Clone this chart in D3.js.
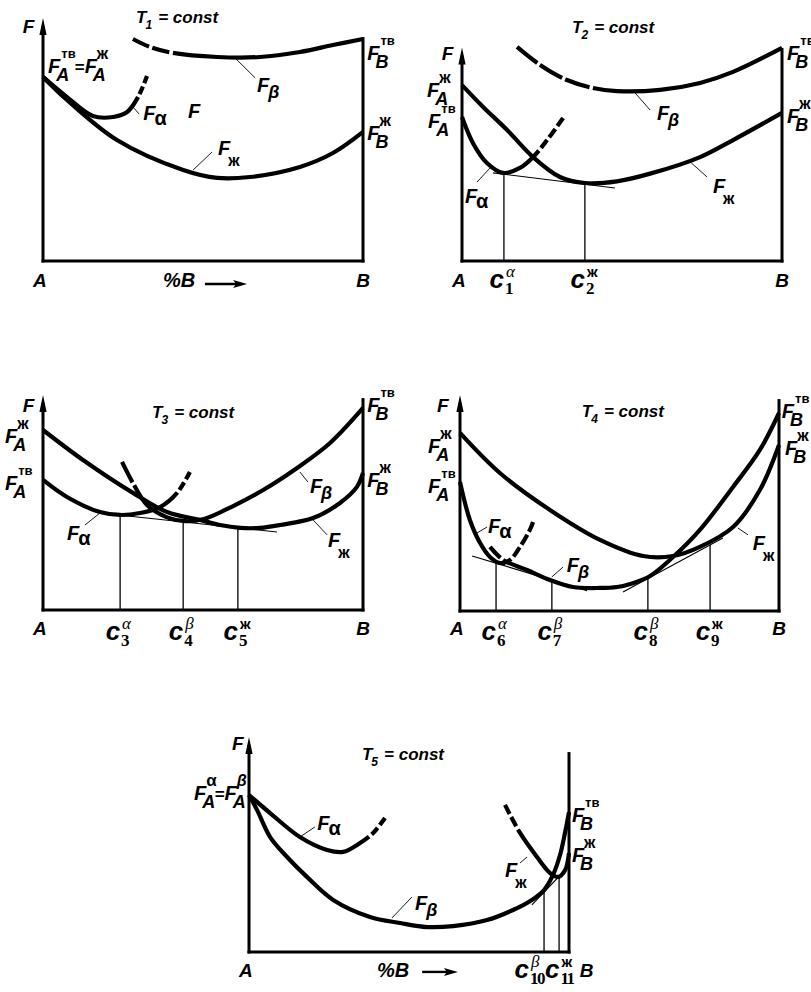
<!DOCTYPE html>
<html>
<head>
<meta charset="utf-8">
<script src="https://cdn.jsdelivr.net/npm/d3@7"></script>
<style>
  html, body { margin: 0; background: #fff; }
  svg { display: block; }
</style>
</head>
<body>
<svg id="fig" width="811" height="992"></svg>
<script>
// Free-energy / composition curves of an A–B system at five temperatures.
// x = %B (0 = pure A, 100 = pure B), y = free energy F (arbitrary units).

// ---- T1 ----
const t1Liquid = [[0,76.7],[7.5,67.1],[23.1,50.4],[43.8,37.9],[54.4,34.6],[64.7,35],[80.3,39.2],[90.6,45],[100,53.8]];
const t1Alpha  = [[0,76.7],[7.5,68.3],[15.6,60.4],[21.9,60],[26.3,62.1],[29.7,68.3],[32.5,77.1]];
const t1Beta   = [[28.1,92.5],[33.4,89.2],[40.6,86.7],[54.4,85],[67.8,85],[80.3,87.1],[90.6,90],[100,92.5]];
const t1AlphaDashFrom = 29.7;
const t1BetaDashTo = 40.6;

// ---- T2 ----
const t2Liquid = [[0,73.3],[6.6,64.2],[14.1,54.6],[22.2,43.3],[30.6,35],[38.4,32.5],[48.4,33.2],[58.8,36.4],[74.4,43.3],[84.7,50.4],[100,61.7]];
const t2Alpha  = [[0,60],[3.4,49.2],[7.8,40.8],[12.8,36.7],[18.1,38.8],[22.2,43.3],[26.6,50.4],[31.6,59.6]];
const t2Beta   = [[17.2,89.2],[24.4,81.7],[32.8,75.4],[40.9,72.1],[48.4,70.8],[61.9,71.3],[74.4,74.2],[84.7,78.8],[100,88.8]];
const t2AlphaDashFrom = 24;
const t2BetaDashTo = 40.9;
const t2Tangent = [[9.7,36.7],[47.8,30.4]];
const t2Comps = [[13.1,36.2],[38.4,32.0]];
const t2CompNames = [["1","α"],["2","ж"]];

// ---- T3 ----
const t3Liquid = [[0,75],[12.5,62.5],[28.1,48.8],[38.8,40.8],[49.1,37.5],[55.3,35.4],[61.6,34.2],[67.8,34.2],[74.1,35.4],[84.4,38.3],[92.8,44.6],[98.1,51.3],[100,57.1]];
const t3Alpha  = [[0,54.2],[7.5,47.1],[17.8,40.8],[24.1,39.6],[30.3,40.4],[36.6,42.9],[41.9,48.8],[45.9,57.5]];
const t3Beta   = [[24.7,61.7],[28.1,52.9],[32.5,43.8],[38.8,38.6],[44.5,37],[50.3,37.9],[58.8,42.9],[68.8,50],[79.4,59.2],[89.7,69.6],[100,84.2]];
const t3AlphaDashFrom = 42;
const t3BetaDashTo = 28.5;
const t3Tangent = [[17.8,40.4],[73.1,32.5]];
const t3Comps = [[24.1,39.5],[43.8,36.7],[60.9,34.3]];
const t3CompNames = [["3","α"],["4","β"],["5","ж"]];

// ---- T4 ----
const t4Liquid = [[0,74.2],[12.5,57.5],[28.2,42.1],[43.9,29.6],[57.4,22.9],[66.8,22.9],[75.2,26.7],[85.6,35],[94,50.4],[100,69.2]];
const t4Alpha  = [[0,53.8],[3.1,37.9],[6.3,28.3],[9.4,22.5],[12.5,20],[15.7,21.3],[18.8,26.7],[21.9,33.8],[22.9,37.1]];
const t4Beta   = [[9.4,26.7],[13.5,21.3],[21,17.1],[28.2,12.9],[35.4,10],[43.9,9.6],[49.2,10],[54.2,11.6],[59.6,14.6],[66.8,22.5],[75.2,33.8],[85.6,51.7],[94,67.1],[100,82.5]];
const t4AlphaDashFrom = 16;
const t4BetaDashTo = 13.5;
const t4TangentLow  = [[3.8,22.9],[39.8,8.5]];
const t4TangentHigh = [[51.1,7.9],[82.4,30.4]];
const t4Comps = [[11.3,19.9],[28.8,12.9],[58.9,13.5],[78.4,27.5]];
const t4CompNames = [["6","α"],["7","β"],["8","β"],["9","ж"]];

// ---- T5 ----
const t5Beta   = [[0,65.4],[2.5,59.2],[6.6,47.9],[11.9,39.6],[18.1,31.3],[26.3,21.7],[37.8,14.6],[47.2,12.1],[55.6,10.4],[63.8,10.8],[74.4,13.3],[82.5,17.5],[88.4,21.7],[92.2,25.8],[95,32.1],[97.2,40.4],[98.8,50],[100,58.3]];
const t5Alpha  = [[0,65.4],[6.6,57.9],[15.9,47.9],[24.4,42.5],[29.4,41.7],[34.7,45.4],[38.8,49.6],[42.5,55.8]];
const t5Liquid = [[80,61.3],[84.7,49.6],[90,39.6],[94.1,32.9],[96.6,31.3],[98.8,34.2],[100,41.3]];
const t5AlphaDashFrom = 37.5;
const t5LiquidDashTo = 84;
const t5Tangent = [[88.4,19.6],[99.4,35]];
const t5Comps = [[92.2,24.9],[96.9,31.5]];
const t5CompNames = [["10","β"],["11","ж"]];
const t5CompLabelX = [87.5, 97.0];

// ---------------------------------------------------------------------------
const SANS = "'Liberation Sans', Arial, Helvetica, sans-serif";
const SERIF = "'Liberation Serif', 'Times New Roman', serif";

const STY = {
  F:        {size:20, family:SANS, weight:700, style:'italic'},
  axisF:    {size:19, family:SANS, weight:700, style:'italic'},
  corner:   {size:19, family:SANS, weight:700, style:'italic'},
  pct:      {size:20, family:SANS, weight:700, style:'italic'},
  title:    {size:17, family:SANS, weight:700, style:'italic'},
  titleSub: {size:12, family:SANS, weight:700, style:'italic', dx:-1, dy:6},
  eq:       {size:17, family:SANS, weight:700, style:'normal'},
  subLat:   {size:18, family:SANS, weight:700, style:'italic', dx:-4, dy:8},
  subAlpha: {size:20, family:SANS, weight:700, style:'normal', dx:-1, dy:5},
  subBeta:  {size:18, family:SANS, weight:700, style:'italic', dx:-1, dy:6},
  subZh:    {size:16, family:SANS, weight:700, style:'normal', dx:-2, dy:11},
  supTv:    {size:13, family:SANS, weight:700, style:'normal', dx:1, dy:-15},
  supZh:    {size:16, family:SANS, weight:700, style:'normal', dx:0, dy:-14},
  supAlpha: {size:17, family:SANS, weight:700, style:'normal', dx:0, dy:-14},
  supBeta:  {size:16, family:SANS, weight:700, style:'italic', dx:0, dy:-14},
  c:        {size:26, family:SANS, weight:700, style:'italic'},
  cSub:     {size:17, family:SERIF, weight:700, style:'normal', dx:1, dy:6, spacing:-1.5},
  cSupGr:   {size:17, family:SERIF, weight:400, style:'italic', dx:2, dy:-11},
  cSupZh:   {size:15, family:SANS, weight:700, style:'normal', dx:2, dy:-11}
};

const subStyle = s => s === 'α' ? 'subAlpha' : s === 'β' ? 'subBeta' : s === 'ж' ? 'subZh' : 'subLat';
const supStyle = s => s === 'тв' ? 'supTv' : s === 'ж' ? 'supZh' : s === 'α' ? 'supAlpha' : 'supBeta';
const F = (sub, sup) => ({t:'F', st:'F', sub, sup});
const title = n => [{t:'T', st:'title', sub:n, subSt:'titleSub'}, {t:'= const', st:'title', gapBefore:6}];

const panels = [
  { frame:{left:43, bottom:261, width:320}, axisTop:101.3, rightTop:93.3,
    curves:[{data:t1Liquid}, {data:t1Alpha, dashFrom:t1AlphaDashFrom, dash:8}, {data:t1Beta, dashTo:t1BetaDashTo}],
    tangents:[], comps:[], names:[], nameY:-11.3,
    leaders:[[[28.1,64.2],[30,61.3]],[[60,84.6],[66.3,76.3]],[[46.9,37.9],[52.8,45.4]]],
    labels:[
      {x:29.1, y:99.2, segs:title('1')},
      {x:-6.3, y:95, segs:[{t:'F', st:'axisF'}]},
      {x:1.6, y:78.3, segs:[F('A','тв'), {t:'=', st:'eq', gapBefore:-1}, F('A','ж')]},
      {x:31.3, y:58.8, segs:[F('α')]},
      {x:45.3, y:59.6, segs:[{t:'F', st:'F'}]},
      {x:66.9, y:70.4, segs:[F('β')]},
      {x:54.7, y:44.2, segs:[F('ж')]},
      {x:101.3, y:83.8, segs:[F('B','тв')]},
      {x:101.3, y:50.4, segs:[F('B','ж')]}
    ],
    corners:{y:-10.8, bx:100}, pctB:{x:37.5, y:-10.8, a0:50.6, a1:63.8, ay:-9.6} },

  { frame:{left:462, bottom:261, width:320}, axisTop:89, rightTop:88.8,
    curves:[{data:t2Liquid}, {data:t2Alpha, dashFrom:t2AlphaDashFrom, dash:12}, {data:t2Beta, dashTo:t2BetaDashTo, dash:22}],
    tangents:[t2Tangent], comps:t2Comps, names:t2CompNames, nameY:-11.3,
    leaders:[[[54.1,70],[58.8,62.9]],[[71.3,41.3],[76.6,35]],[[8.8,38.8],[4.7,32.9]]],
    labels:[
      {x:34.4, y:95, segs:title('2')},
      {x:-6.3, y:83.8, segs:[{t:'F', st:'axisF'}]},
      {x:-10.9, y:68.5, segs:[F('A','ж')]},
      {x:-10.6, y:55.4, segs:[F('A','тв')]},
      {x:0.9, y:24.2, segs:[F('α')]},
      {x:60.9, y:58.8, segs:[F('β')]},
      {x:78.4, y:28.3, segs:[F('ж')]},
      {x:101.6, y:83.8, segs:[F('B','тв')]},
      {x:101.6, y:57.5, segs:[F('B','ж')]}
    ],
    corners:{y:-10.8, bx:100} },

  { frame:{left:43, bottom:610, width:320}, axisTop:89.6, rightTop:88.3,
    curves:[{data:t3Liquid}, {data:t3Alpha, dashFrom:t3AlphaDashFrom, dash:12}, {data:t3Beta, dashTo:t3BetaDashTo, dash:16}],
    tangents:[t3Tangent], comps:t3Comps, names:t3CompNames, nameY:-12.5,
    leaders:[[[17.8,40.4],[13.1,35.4]],[[80.3,57.5],[82.8,53.3]],[[84.4,37.5],[88.8,31.3]]],
    labels:[
      {x:34.1, y:80, segs:title('3')},
      {x:-6.3, y:82.5, segs:[{t:'F', st:'axisF'}]},
      {x:-11.9, y:69.6, segs:[F('A','ж')]},
      {x:-11.9, y:50, segs:[F('A','тв')]},
      {x:7.5, y:29.2, segs:[F('α')]},
      {x:83.4, y:48.8, segs:[F('β')]},
      {x:89.1, y:26.3, segs:[F('ж')]},
      {x:101.3, y:82.5, segs:[F('B','тв')]},
      {x:101.3, y:51.3, segs:[F('B','ж')]}
    ],
    corners:{y:-10.4, bx:100} },

  { frame:{left:460, bottom:611, width:319}, axisTop:90, rightTop:88.3,
    curves:[{data:t4Liquid}, {data:t4Alpha, dashFrom:t4AlphaDashFrom, dash:10}, {data:t4Beta, dashTo:t4BetaDashTo, dash:10}],
    tangents:[t4TangentLow, t4TangentHigh], comps:t4Comps, names:t4CompNames, nameY:-12.1,
    leaders:[[[5.3,32.5],[8.5,35]],[[28.8,14.2],[32.3,18.3]],[[87.1,34.6],[90.3,31.7]]],
    labels:[
      {x:38.2, y:80.8, segs:title('4')},
      {x:-7.2, y:82.9, segs:[{t:'F', st:'axisF'}]},
      {x:-10, y:65.8, segs:[F('A','ж')]},
      {x:-10, y:49.2, segs:[F('A','тв')]},
      {x:8.8, y:32.5, segs:[F('α')]},
      {x:33.5, y:16.3, segs:[F('β')]},
      {x:91.8, y:25.4, segs:[F('ж')]},
      {x:100.9, y:80.4, segs:[F('B','тв')]},
      {x:101.9, y:65, segs:[F('B','ж')]}
    ],
    corners:{y:-10, bx:100} },

  { frame:{left:249, bottom:952, width:320}, axisTop:89.6, rightTop:83.3,
    curves:[{data:t5Beta}, {data:t5Alpha, dashFrom:t5AlphaDashFrom, dash:12}, {data:t5Liquid, dashTo:t5LiquidDashTo, dash:14}],
    tangents:[t5Tangent], comps:t5Comps, names:t5CompNames, nameY:-10.8, nameX:t5CompLabelX,
    leaders:[[[15.9,47.9],[20.6,52.1]],[[44.7,14.2],[50.9,22.9]],[[84.7,37.1],[86.9,39.6]]],
    labels:[
      {x:35.3, y:80, segs:title('5')},
      {x:-5.3, y:84.2, segs:[{t:'F', st:'axisF'}]},
      {x:-17.2, y:63.3, segs:[F('A','α'), {t:'=', st:'eq', gapBefore:-2}, F('A','β')]},
      {x:21.3, y:50.8, segs:[F('α')]},
      {x:51.9, y:17.5, segs:[F('β')]},
      {x:80, y:31.3, segs:[F('ж')]},
      {x:100.9, y:54.2, segs:[F('B','тв')]},
      {x:100.9, y:37.5, segs:[F('B','ж')]}
    ],
    corners:{y:-10.4, bx:105.5}, pctB:{x:40, y:-10.4, a0:54.1, a1:65.3, ay:-8.3} }
];

const svg = d3.select('#fig');

function addText(g, x, y, str, s) {
  const t = g.append('text')
    .attr('x', x).attr('y', y)
    .attr('font-family', s.family).attr('font-size', s.size)
    .attr('font-weight', s.weight).attr('font-style', s.style)
    .attr('fill', '#000')
    .text(str);
  if (s.spacing) t.attr('letter-spacing', s.spacing);
  return t;
}

function rich(g, x, y, segs) {
  let cx = x;
  segs.forEach(s => {
    cx += s.gapBefore || 0;
    const b = addText(g, cx, y, s.t, STY[s.st || 'F']);
    const w = b.node().getComputedTextLength();
    let end = cx + w;
    if (s.sup) {
      const ss = STY[s.supSt || supStyle(s.sup)];
      const t = addText(g, cx + w + ss.dx, y + ss.dy, s.sup, ss);
      end = Math.max(end, cx + w + ss.dx + t.node().getComputedTextLength());
    }
    if (s.sub) {
      const ss = STY[s.subSt || subStyle(s.sub)];
      const t = addText(g, cx + w + ss.dx, y + ss.dy, s.sub, ss);
      end = Math.max(end, cx + w + ss.dx + t.node().getComputedTextLength());
    }
    cx = end;
  });
}

function lengthAtX(node, px) {
  let lo = 0, hi = node.getTotalLength();
  for (let i = 0; i < 40; i++) {
    const m = (lo + hi) / 2;
    if (node.getPointAtLength(m).x < px) lo = m; else hi = m;
  }
  return (lo + hi) / 2;
}

// solid curve with a dashed run at its start or its end
function dashPattern(node, px, part, dash, gap) {
  const L = node.getTotalLength();
  const Lb = lengthAtX(node, px);
  const seg = part === 'start' ? Lb : L - Lb;
  const n = Math.max(1, Math.round(seg / (dash + gap)));
  const d = seg / n - gap;
  const arr = [];
  if (part === 'start') {
    for (let i = 0; i < n; i++) arr.push(d, gap);
    arr.push(L + 10, 0);
  } else {
    arr.push(Lb, gap);
    for (let i = 0; i < n; i++) arr.push(d, i < n - 1 ? gap : L + 10);
  }
  return arr.join(',');
}

panels.forEach(p => {
  const fr = p.frame;
  const x = d3.scaleLinear().domain([0, 100]).range([fr.left, fr.left + fr.width]);
  const y = d3.scaleLinear().domain([0, 100]).range([fr.bottom, fr.bottom - 240]);
  const g = svg.append('g');

  const line = d3.line().x(d => x(d[0])).y(d => y(d[1])).curve(d3.curveCatmullRom.alpha(0.5));
  const straight = d3.line().x(d => x(d[0])).y(d => y(d[1]));

  // frame: F axis with arrow, base line A–B, vertical at pure B
  const ax = x(0), tip = y(p.axisTop);
  g.append('line').attr('x1', ax).attr('x2', ax).attr('y1', y(0) + 1.5).attr('y2', tip + 8)
    .attr('stroke', '#000').attr('stroke-width', 3);
  g.append('path').attr('d', `M${ax},${tip} L${ax + 3.6},${tip + 17} L${ax - 3.6},${tip + 17} Z`).attr('fill', '#000');
  g.append('line').attr('x1', ax - 1.5).attr('x2', x(100) + 1.5).attr('y1', y(0)).attr('y2', y(0))
    .attr('stroke', '#000').attr('stroke-width', 3);
  g.append('line').attr('x1', x(100)).attr('x2', x(100)).attr('y1', y(0) + 1.5).attr('y2', y(p.rightTop))
    .attr('stroke', '#000').attr('stroke-width', 3);

  // common tangents
  p.tangents.forEach(t => {
    g.append('path').attr('d', straight(t)).attr('fill', 'none').attr('stroke', '#000').attr('stroke-width', 1.1);
  });

  // equilibrium compositions
  p.comps.forEach(c => {
    g.append('line').attr('x1', x(c[0])).attr('x2', x(c[0])).attr('y1', y(0)).attr('y2', y(c[1]))
      .attr('stroke', '#000').attr('stroke-width', 1.3);
  });

  // free-energy curves
  p.curves.forEach(c => {
    const path = g.append('path').attr('d', line(c.data)).attr('fill', 'none')
      .attr('stroke', '#000').attr('stroke-width', 4.2).attr('stroke-linejoin', 'round');
    const dash = c.dash || 16, gap = 3.5;
    if (c.dashFrom !== undefined) path.attr('stroke-dasharray', dashPattern(path.node(), x(c.dashFrom), 'end', dash, gap));
    if (c.dashTo !== undefined) path.attr('stroke-dasharray', dashPattern(path.node(), x(c.dashTo), 'start', dash, gap));
  });

  // leader lines from curve names
  p.leaders.forEach(l => {
    g.append('path').attr('d', straight(l)).attr('stroke', '#000').attr('stroke-width', 0.9);
  });

  // curve and end-point names
  p.labels.forEach(l => rich(g, x(l.x), y(l.y), l.segs));

  // corner letters
  addText(g, x(-1), y(p.corners.y), 'A', STY.corner).attr('text-anchor', 'middle');
  addText(g, x(p.corners.bx), y(p.corners.y), 'B', STY.corner).attr('text-anchor', 'middle');

  // composition labels c_n
  p.comps.forEach((c, i) => {
    const cx = x(p.nameX ? p.nameX[i] : c[0]);
    const cy = y(p.nameY);
    addText(g, cx, cy, 'c', STY.c).attr('text-anchor', 'end');
    const [num, ph] = p.names[i];
    const sup = ph === 'ж' ? STY.cSupZh : STY.cSupGr;
    addText(g, cx + sup.dx, cy + sup.dy, ph, sup);
    addText(g, cx + STY.cSub.dx, cy + STY.cSub.dy, num, STY.cSub);
  });

  // "%B →"
  if (p.pctB) {
    const b = p.pctB;
    addText(g, x(b.x), y(b.y), '%B', STY.pct);
    const a0 = x(b.a0), a1 = x(b.a1), ay = y(b.ay);
    g.append('line').attr('x1', a0).attr('x2', a1 - 10).attr('y1', ay).attr('y2', ay)
      .attr('stroke', '#000').attr('stroke-width', 2.4);
    g.append('path').attr('d', `M${a1},${ay} L${a1 - 14},${ay - 4} L${a1 - 11},${ay} L${a1 - 14},${ay + 4} Z`).attr('fill', '#000');
  }
});
</script>
</body>
</html>
